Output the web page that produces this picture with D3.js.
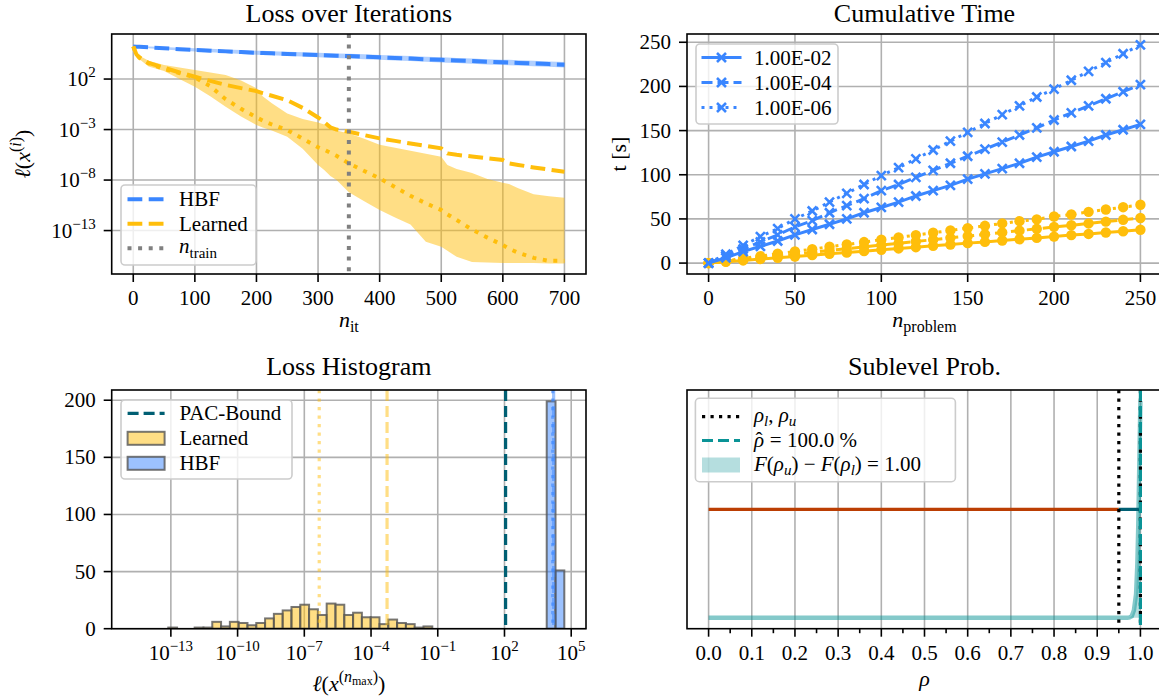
<!DOCTYPE html>
<html>
<head>
<meta charset="utf-8">
<script src="https://cdn.jsdelivr.net/npm/d3@7"></script>
</head>
<body style="margin:0;background:#fff">
<script>
// ---- Loss over Iterations (values are log10 of the loss) ----
var its = [0, 5, 10, 25, 50, 75, 100, 125, 150, 175, 200, 210, 225, 250, 275, 300, 310, 320, 330, 350,
    375, 400, 425, 450, 475, 500, 510, 525, 550, 575, 600, 610, 625, 650, 675, 700];
var hbfMid = [5.22, 5.2, 5.19, 5.14, 5.05, 4.96, 4.88, 4.81, 4.74, 4.67, 4.6, 4.58, 4.55, 4.49, 4.44, 4.38, 4.36, 4.33, 4.31, 4.27,
    4.21, 4.15, 4.09, 4.03, 3.96, 3.9, 3.88, 3.84, 3.78, 3.72, 3.66, 3.64, 3.6, 3.54, 3.48, 3.42];
var hbfHi = [5.22, 5.23, 5.24, 5.22, 5.17, 5.1, 5.04, 4.99, 4.93, 4.87, 4.81, 4.79, 4.76, 4.71, 4.66, 4.61, 4.59, 4.56, 4.54, 4.5,
    4.45, 4.39, 4.33, 4.28, 4.21, 4.15, 4.13, 4.09, 4.03, 3.97, 3.92, 3.9, 3.86, 3.8, 3.74, 3.68];
var hbfLo = [5.22, 5.15, 5.12, 5.04, 4.93, 4.83, 4.73, 4.65, 4.57, 4.49, 4.41, 4.39, 4.35, 4.29, 4.23, 4.16, 4.14, 4.11, 4.08, 4.04,
    3.97, 3.91, 3.84, 3.78, 3.71, 3.64, 3.62, 3.58, 3.52, 3.45, 3.39, 3.37, 3.33, 3.27, 3.21, 3.15];
var learnedDash = [5.22, 4.45, 4.1, 3.6, 3.12, 2.65, 2.23, 1.82, 1.42, 1.1, 0.81, 0.6, 0.35, -0.1, -0.85, -1.8, -2.25, -2.78, -3.0, -3.22,
    -3.55, -3.87, -4.12, -4.38, -4.62, -4.86, -5.36, -5.5, -5.67, -5.85, -6.02, -6.35, -6.5, -6.75, -6.97, -7.18];
var learnedDot = [5.22, 4.5, 4.15, 3.55, 3.0, 2.6, 2.15, 1.3, 0.0, -0.95, -1.8, -2.1, -2.5, -3.05, -3.9, -4.75, -5.0, -5.3, -5.6, -6.35,
    -7.1, -7.83, -8.7, -9.55, -10.3, -10.97, -11.4, -11.95, -12.9, -13.7, -14.44, -14.8, -15.2, -15.7, -16.0, -16.0];
var learnedHi = [5.22, 4.6, 4.3, 3.8, 3.4, 3.15, 2.89, 2.65, 2.4, 1.85, 1.1, 0.3, -0.4, -1.4, -1.95, -2.3, -2.5, -2.9, -3.1, -3.38,
    -3.9, -4.5, -4.8, -5.1, -5.4, -5.7, -6.5, -6.9, -7.3, -7.9, -8.26, -8.4, -8.8, -9.4, -9.6, -9.75];
var learnedLo = [5.22, 4.3, 3.95, 3.25, 2.8, 2.0, 1.24, 0.3, -0.74, -1.7, -2.55, -2.8, -3.1, -3.71, -4.9, -6.5, -7.0, -7.6, -8.0, -9.2,
    -10.1, -10.97, -11.7, -12.4, -14.1, -14.6, -15.0, -15.6, -16.1, -16.15, -16.2, -16.2, -16.2, -16.22, -16.25, -16.25];
var nTrain = 350;
var lossTicksX = [0, 100, 200, 300, 400, 500, 600, 700];
var lossTicksExp = [2, -3, -8, -13];

// ---- Cumulative Time ----
var problems = [0, 10, 20, 30, 40, 50, 60, 70, 80, 90, 100, 110, 120, 130, 140, 150, 160, 170, 180, 190, 200, 210, 220, 230, 240, 250];
var tolLabels = ["1.00E-02", "1.00E-04", "1.00E-06"];
var hbfTime = [
    [0, 6, 13, 19, 25, 32, 38, 44, 50, 57, 63, 69, 76, 82, 88, 95, 101, 107, 113, 120, 126, 132, 138, 145, 151, 157],
    [0, 8, 16, 24, 32, 41, 48, 57, 65, 73, 82, 89, 97, 105, 113, 121, 129, 137, 145, 153, 162, 170, 178, 186, 194, 202],
    [0, 10, 20, 30, 39, 50, 59, 69, 79, 89, 99, 108, 118, 128, 138, 148, 158, 168, 178, 188, 197, 207, 217, 227, 237, 247]
];
var learnedTime = [
    [0, 1.5, 3, 4.6, 6, 7.5, 9, 10.6, 12, 13.5, 15, 16.6, 18, 19.5, 21, 22.6, 24, 25.6, 27, 28.5, 30, 31.7, 33, 34.6, 36, 37.7],
    [0, 2, 4, 6.1, 8, 10, 12.2, 14.3, 16.3, 18.4, 20.5, 22.4, 24.5, 26.5, 28.6, 30.6, 32.6, 34.7, 36.7, 38.8, 41, 42.8, 44.9, 46.9, 49, 51],
    [0, 2.6, 5.3, 7.9, 10.6, 13.2, 15.8, 18.5, 21, 23.8, 26.5, 29, 31.7, 34.3, 37, 39.6, 42.2, 44.9, 47.5, 49.5, 52.8, 55, 58, 60.7, 63.3, 66]
];
var timeTicksX = [0, 50, 100, 150, 200, 250];
var timeTicksY = [0, 50, 100, 150, 200, 250];

// ---- Loss Histogram (bins in log10 space) ----
var binLo = -14.70, binHi = 4.69;
var learnedCounts = [0, 0, 0, 0, 1, 0, 0, 1, 1, 6, 2, 6, 5, 3, 5, 9, 13, 16, 19, 21, 17, 12, 22, 21, 12, 14, 10, 10, 4, 8,
    5, 4, 1, 2, 0, 0, 0, 0, 0, 0, 0, 0, 0, 0, 0, 0, 0, 0, 0];
var hbfCounts = [0, 0, 0, 0, 0, 0, 0, 0, 0, 0, 0, 0, 0, 0, 0, 0, 0, 0, 0, 0, 0, 0, 0, 0, 0, 0, 0, 0, 0, 0,
    0, 0, 0, 0, 0, 0, 0, 0, 0, 0, 0, 0, 0, 0, 0, 0, 0, 199, 51];
var pacBound = 2.05;
var learnedMedian = -6.33, learnedMax = -3.28;
var hbfMedian = 4.17, hbfMax = 4.21;
var histTicksExp = [-13, -10, -7, -4, -1, 2, 5];
var histTicksY = [0, 50, 100, 150, 200];

// ---- Sublevel Prob. ----
var rhoPts = [0, 0.5, 0.9, 0.95, 0.97, 0.975, 0.98, 0.985, 0.99, 0.993, 0.995, 0.997, 0.998, 0.999, 1.0];
var pdfVals = [0, 0, 0, 0, 0.0005, 0.002, 0.008, 0.035, 0.11, 0.25, 0.42, 0.65, 0.77, 0.88, 1.0];
var rhoL = 0.95, rhoU = 1.0, rhoHat = 1.0, intervalLevel = 0.5;
var rhoTicks = [0, 0.1, 0.2, 0.3, 0.4, 0.5, 0.6, 0.7, 0.8, 0.9, 1.0];
var rhoMinor = [0.05, 0.15, 0.25, 0.35, 0.45, 0.55, 0.65, 0.75, 0.85, 0.95];

var BLUE = "#3a86ff", YELLOW = "#ffbe0b", DTEAL = "#005f73", TEAL = "#0a9396", RED = "#bb3e03";
var GRID = "#b0b0b0";

var svg = d3.select("body").append("svg")
    .attr("width", 1159).attr("height", 700);
svg.append("rect").attr("width", 1159).attr("height", 700).attr("fill", "#fff");

var boxes = {
    loss: {x0: 111.7, x1: 586, y0: 34, y1: 274},
    time: {x0: 687, x1: 1162, y0: 34, y1: 274},
    hist: {x0: 111.7, x1: 586, y0: 390, y1: 628.7},
    prob: {x0: 687, x1: 1162, y0: 390, y1: 628.7}
};

function clipFor(name, b) {
    svg.append("clipPath").attr("id", "clip-" + name)
        .append("rect").attr("x", b.x0).attr("y", b.y0)
        .attr("width", b.x1 - b.x0).attr("height", b.y1 - b.y0);
    return svg.append("g").attr("clip-path", "url(#clip-" + name + ")");
}

function frame(b) {
    svg.append("rect").attr("x", b.x0).attr("y", b.y0)
        .attr("width", b.x1 - b.x0).attr("height", b.y1 - b.y0)
        .attr("fill", "none").attr("stroke", "#000").attr("stroke-width", 1.6);
}

function title(b, txt, y) {
    svg.append("text").attr("x", (b.x0 + b.x1) / 2).attr("y", y)
        .attr("text-anchor", "middle").attr("font-size", 26).text(txt);
}

function gridX(b, scale, vals) {
    svg.append("g").selectAll("line").data(vals).enter().append("line")
        .attr("x1", function (d) { return scale(d); }).attr("x2", function (d) { return scale(d); })
        .attr("y1", b.y0).attr("y2", b.y1)
        .attr("stroke", GRID).attr("stroke-width", 1.6);
}

function gridY(b, scale, vals) {
    svg.append("g").selectAll("line").data(vals).enter().append("line")
        .attr("y1", function (d) { return scale(d); }).attr("y2", function (d) { return scale(d); })
        .attr("x1", b.x0).attr("x2", b.x1)
        .attr("stroke", GRID).attr("stroke-width", 1.6);
}

function ticksX(b, scale, vals, len) {
    svg.append("g").selectAll("line").data(vals).enter().append("line")
        .attr("x1", function (d) { return scale(d); }).attr("x2", function (d) { return scale(d); })
        .attr("y1", b.y1).attr("y2", b.y1 + len)
        .attr("stroke", "#000").attr("stroke-width", 1.6);
}

function ticksY(b, scale, vals) {
    svg.append("g").selectAll("line").data(vals).enter().append("line")
        .attr("y1", function (d) { return scale(d); }).attr("y2", function (d) { return scale(d); })
        .attr("x1", b.x0 - 8).attr("x2", b.x0)
        .attr("stroke", "#000").attr("stroke-width", 1.6);
}

function plainLabel(x, y, txt, anchor) {
    svg.append("text").attr("x", x).attr("y", y).attr("text-anchor", anchor)
        .attr("font-size", 21).text(txt);
}

function powLabel(x, y, e, anchor) {
    var t = svg.append("text").attr("x", x).attr("y", y).attr("text-anchor", anchor).attr("font-size", 21);
    t.append("tspan").text("10");
    t.append("tspan").attr("dy", -9).attr("font-size", 15).text(e < 0 ? "\u2212" + (-e) : "" + e);
}

function legendBox(x, y, w, h) {
    svg.append("rect").attr("x", x).attr("y", y).attr("width", w).attr("height", h)
        .attr("rx", 4).attr("fill", "#fff").attr("fill-opacity", 0.8)
        .attr("stroke", "#cccccc").attr("stroke-width", 1.6);
}

function hline(x1, x2, y, color, width, dash, opacity) {
    return svg.append("line").attr("x1", x1).attr("x2", x2).attr("y1", y).attr("y2", y)
        .attr("stroke", color).attr("stroke-width", width)
        .attr("stroke-dasharray", dash || null).attr("stroke-opacity", opacity || 1);
}

function pow10(v) { return Math.pow(10, v); }

// =============== Panel 1: Loss over Iterations ===============
(function () {
    var b = boxes.loss;
    var sx = d3.scaleLinear().domain([-35, 735]).range([b.x0, b.x1]);
    var sy = d3.scaleLog().domain([pow10(-17.3), pow10(6.46)]).range([b.y1, b.y0]);

    gridX(b, sx, lossTicksX);
    gridY(b, sy, lossTicksExp.map(pow10));
    var g = clipFor("loss", b);

    var rows = its.map(function (n, i) {
        return {n: n, hm: hbfMid[i], hh: hbfHi[i], hl: hbfLo[i],
            ld: learnedDash[i], lm: learnedDot[i], lh: learnedHi[i], ll: learnedLo[i]};
    });
    function band(lo, hi) {
        return d3.area().x(function (d) { return sx(d.n); })
            .y0(function (d) { return sy(pow10(d[lo])); })
            .y1(function (d) { return sy(pow10(d[hi])); });
    }
    function curve(k) {
        return d3.line().x(function (d) { return sx(d.n); })
            .y(function (d) { return sy(pow10(d[k])); });
    }
    g.append("path").datum(rows).attr("d", band("ll", "lh")).attr("fill", YELLOW).attr("fill-opacity", 0.5);
    g.append("path").datum(rows).attr("d", band("hl", "hh")).attr("fill", BLUE).attr("fill-opacity", 0.4);
    g.append("path").datum(rows).attr("d", curve("hm")).attr("fill", "none")
        .attr("stroke", BLUE).attr("stroke-width", 4).attr("stroke-dasharray", "14.8,6.4");
    g.append("path").datum(rows).attr("d", curve("ld")).attr("fill", "none")
        .attr("stroke", YELLOW).attr("stroke-width", 4).attr("stroke-dasharray", "14.8,6.4");
    g.append("path").datum(rows).attr("d", curve("lm")).attr("fill", "none")
        .attr("stroke", YELLOW).attr("stroke-width", 4).attr("stroke-dasharray", "4,6.6");
    g.append("line").attr("x1", sx(nTrain)).attr("x2", sx(nTrain)).attr("y1", b.y0).attr("y2", b.y1)
        .attr("stroke", "#808080").attr("stroke-width", 4).attr("stroke-dasharray", "4,6.6");

    frame(b);
    ticksX(b, sx, lossTicksX, 8);
    ticksY(b, sy, lossTicksExp.map(pow10));
    lossTicksX.forEach(function (d) { plainLabel(sx(d), b.y1 + 31, d, "middle"); });
    lossTicksExp.forEach(function (e) { powLabel(b.x0 - 16, sy(pow10(e)) + 7, e, "end"); });
    title(b, "Loss over Iterations", 22);

    var xl = svg.append("text").attr("x", (b.x0 + b.x1) / 2).attr("y", 327)
        .attr("text-anchor", "middle").attr("font-size", 22);
    xl.append("tspan").attr("font-style", "italic").text("n");
    xl.append("tspan").attr("dy", 5).attr("font-size", 16).text("it");

    var yl = svg.append("text").attr("transform", "translate(30," + ((b.y0 + b.y1) / 2) + ") rotate(-90)")
        .attr("text-anchor", "middle").attr("font-size", 22);
    yl.append("tspan").attr("font-style", "italic").text("\u2113");
    yl.append("tspan").text("(");
    yl.append("tspan").attr("font-style", "italic").text("x");
    yl.append("tspan").attr("dy", -9).attr("font-size", 16).text("(");
    yl.append("tspan").attr("font-size", 16).attr("font-style", "italic").text("i");
    yl.append("tspan").attr("font-size", 16).text(")");
    yl.append("tspan").attr("dy", 9).text(")");

    legendBox(121, 185, 135, 80);
    var ly = [199.3, 223.8, 248.3];
    hline(127.5, 164, ly[0], BLUE, 4, "14.8,6.4");
    hline(127.5, 164, ly[1], YELLOW, 4, "14.8,6.4");
    hline(127.5, 164, ly[2], "#808080", 4, "4,6.6");
    plainLabel(179, ly[0] + 7, "HBF", "start");
    plainLabel(179, ly[1] + 7, "Learned", "start");
    var nt = svg.append("text").attr("x", 179).attr("y", ly[2] + 5).attr("font-size", 21);
    nt.append("tspan").attr("font-style", "italic").text("n");
    nt.append("tspan").attr("dy", 5).attr("font-size", 15).text("train");
})();

// =============== Panel 2: Cumulative Time ===============
(function () {
    var b = boxes.time;
    var sx = d3.scaleLinear().domain([-12.5, 262.5]).range([b.x0, b.x1]);
    var sy = d3.scaleLinear().domain([-12.35, 259.35]).range([b.y1, b.y0]);
    var dashes = [null, "11,5", "3,5"];

    gridX(b, sx, timeTicksX);
    gridY(b, sy, timeTicksY);
    var g = clipFor("time", b);
    var cross = "M-4.5,-4.5L4.5,4.5M-4.5,4.5L4.5,-4.5";

    function series(vals, color, dash, marker) {
        var pts = problems.map(function (p, i) { return {p: p, t: vals[i]}; });
        g.append("path").datum(pts)
            .attr("d", d3.line().x(function (d) { return sx(d.p); }).y(function (d) { return sy(d.t); }))
            .attr("fill", "none").attr("stroke", color).attr("stroke-width", 3)
            .attr("stroke-dasharray", dash);
        if (marker === "x") {
            g.append("g").selectAll("path").data(pts).enter().append("path")
                .attr("d", cross)
                .attr("transform", function (d) { return "translate(" + sx(d.p) + "," + sy(d.t) + ")"; })
                .attr("stroke", color).attr("stroke-width", 2.6).attr("fill", "none");
        } else {
            g.append("g").selectAll("circle").data(pts).enter().append("circle")
                .attr("cx", function (d) { return sx(d.p); })
                .attr("cy", function (d) { return sy(d.t); })
                .attr("r", 5.2).attr("fill", color);
        }
    }
    learnedTime.forEach(function (v, i) { series(v, YELLOW, dashes[i], "o"); });
    hbfTime.forEach(function (v, i) { series(v, BLUE, dashes[i], "x"); });

    frame(b);
    ticksX(b, sx, timeTicksX, 8);
    ticksY(b, sy, timeTicksY);
    timeTicksX.forEach(function (d) { plainLabel(sx(d), b.y1 + 31, d, "middle"); });
    timeTicksY.forEach(function (d) { plainLabel(b.x0 - 16, sy(d) + 7, d, "end"); });
    title(b, "Cumulative Time", 22);

    var xl = svg.append("text").attr("x", (b.x0 + b.x1) / 2).attr("y", 327)
        .attr("text-anchor", "middle").attr("font-size", 22);
    xl.append("tspan").attr("font-style", "italic").text("n");
    xl.append("tspan").attr("dy", 5).attr("font-size", 16).text("problem");

    svg.append("text").attr("transform", "translate(626," + ((b.y0 + b.y1) / 2) + ") rotate(-90)")
        .attr("text-anchor", "middle").attr("font-size", 22).text("t [s]");

    legendBox(696, 44, 142, 80);
    var ly = [57.5, 82.5, 107.5];
    tolLabels.forEach(function (lab, i) {
        hline(701.5, 741.5, ly[i], BLUE, 3, dashes[i]);
        svg.append("path").attr("d", cross).attr("transform", "translate(721.5," + ly[i] + ")")
            .attr("stroke", BLUE).attr("stroke-width", 2.6).attr("fill", "none");
        plainLabel(754, ly[i] + 7, lab, "start");
    });
})();

// =============== Panel 3: Loss Histogram ===============
(function () {
    var b = boxes.hist;
    var sx = d3.scaleLog().domain([pow10(-15.66), pow10(5.665)]).range([b.x0, b.x1]);
    var sy = d3.scaleLinear().domain([0, 208.95]).range([b.y1, b.y0]);
    var nb = learnedCounts.length;
    var step = (binHi - binLo) / nb;

    gridX(b, sx, histTicksExp.map(pow10));
    gridY(b, sy, histTicksY);
    var g = clipFor("hist", b);

    function bars(counts, color) {
        var data = counts.map(function (c, i) { return {i: i, c: c}; }).filter(function (d) { return d.c > 0; });
        g.append("g").selectAll("rect").data(data).enter().append("rect")
            .attr("x", function (d) { return sx(pow10(binLo + d.i * step)); })
            .attr("width", function (d) { return sx(pow10(binLo + (d.i + 1) * step)) - sx(pow10(binLo + d.i * step)); })
            .attr("y", function (d) { return sy(d.c); })
            .attr("height", function (d) { return sy(0) - sy(d.c); })
            .attr("fill", color).attr("fill-opacity", 0.5)
            .attr("stroke", "#555").attr("stroke-opacity", 0.8).attr("stroke-width", 2);
    }
    bars(learnedCounts, YELLOW);
    bars(hbfCounts, BLUE);

    function vline(e, color, dash, op) {
        g.append("line").attr("x1", sx(pow10(e))).attr("x2", sx(pow10(e)))
            .attr("y1", b.y0).attr("y2", b.y1)
            .attr("stroke", color).attr("stroke-width", 3.2).attr("stroke-opacity", op)
            .attr("stroke-dasharray", dash);
    }
    vline(pacBound, DTEAL, "11,5", 1);
    vline(learnedMedian, YELLOW, "3.2,5.3", 0.5);
    vline(learnedMax, YELLOW, "11,5", 0.5);
    vline(hbfMedian, BLUE, "3.2,5.3", 0.6);
    vline(hbfMax, BLUE, "11,5", 0.5);

    frame(b);
    ticksX(b, sx, histTicksExp.map(pow10), 8);
    ticksY(b, sy, histTicksY);
    histTicksExp.forEach(function (e) { powLabel(sx(pow10(e)), b.y1 + 31, e, "middle"); });
    histTicksY.forEach(function (d) { plainLabel(b.x0 - 16, sy(d) + 7, d, "end"); });
    title(b, "Loss Histogram", 375);

    var xl = svg.append("text").attr("x", (b.x0 + b.x1) / 2).attr("y", 691)
        .attr("text-anchor", "middle").attr("font-size", 22);
    xl.append("tspan").attr("font-style", "italic").text("\u2113");
    xl.append("tspan").text("(");
    xl.append("tspan").attr("font-style", "italic").text("x");
    xl.append("tspan").attr("dy", -9).attr("font-size", 16).text("(");
    xl.append("tspan").attr("font-size", 16).attr("font-style", "italic").text("n");
    xl.append("tspan").attr("dy", 3).attr("font-size", 12).text("max");
    xl.append("tspan").attr("dy", -3).attr("font-size", 16).text(")");
    xl.append("tspan").attr("dy", 9).text(")");

    legendBox(121, 400, 171, 79);
    var ly = [413.3, 438.3, 463.3];
    hline(127.6, 164.6, ly[0], DTEAL, 3.2, "11,5");
    [YELLOW, BLUE].forEach(function (c, i) {
        svg.append("rect").attr("x", 127.6).attr("y", ly[i + 1] - 6.5).attr("width", 37).attr("height", 13)
            .attr("fill", c).attr("fill-opacity", 0.5)
            .attr("stroke", "#555").attr("stroke-opacity", 0.8).attr("stroke-width", 2);
    });
    plainLabel(179.4, ly[0] + 7, "PAC-Bound", "start");
    plainLabel(179.4, ly[1] + 7, "Learned", "start");
    plainLabel(179.4, ly[2] + 7, "HBF", "start");
})();

// =============== Panel 4: Sublevel Prob. ===============
(function () {
    var b = boxes.prob;
    var sx = d3.scaleLinear().domain([-0.05, 1.05]).range([b.x0, b.x1]);
    var sy = d3.scaleLinear().domain([-0.05, 1.05]).range([b.y1, b.y0]);

    gridX(b, sx, rhoTicks);
    var g = clipFor("prob", b);
    var pts = rhoPts.map(function (r, i) { return {r: r, v: pdfVals[i]}; });

    g.append("path").datum(pts.filter(function (d) { return d.r >= rhoL && d.r <= rhoU; }))
        .attr("d", d3.area().x(function (d) { return sx(d.r); }).y0(sy(0)).y1(function (d) { return sy(d.v); }))
        .attr("fill", TEAL).attr("fill-opacity", 0.3);
    g.append("path").datum(pts)
        .attr("d", d3.line().x(function (d) { return sx(d.r); }).y(function (d) { return sy(d.v); }))
        .attr("fill", "none").attr("stroke", TEAL).attr("stroke-opacity", 0.5).attr("stroke-width", 4.5);

    g.append("line").attr("x1", sx(0)).attr("x2", sx(rhoL)).attr("y1", sy(intervalLevel)).attr("y2", sy(intervalLevel))
        .attr("stroke", RED).attr("stroke-width", 3.2);
    g.append("line").attr("x1", sx(rhoL)).attr("x2", sx(rhoU)).attr("y1", sy(intervalLevel)).attr("y2", sy(intervalLevel))
        .attr("stroke", DTEAL).attr("stroke-width", 3.2);

    [rhoL, rhoU].forEach(function (r) {
        g.append("line").attr("x1", sx(r)).attr("x2", sx(r)).attr("y1", b.y0).attr("y2", b.y1)
            .attr("stroke", "#000").attr("stroke-width", 3.2).attr("stroke-dasharray", "3.2,5.3");
    });
    g.append("line").attr("x1", sx(rhoHat)).attr("x2", sx(rhoHat)).attr("y1", b.y0).attr("y2", b.y1)
        .attr("stroke", TEAL).attr("stroke-width", 3.2).attr("stroke-dasharray", "11,5");

    frame(b);
    ticksX(b, sx, rhoTicks, 8);
    ticksX(b, sx, rhoMinor, 4.5);
    rhoTicks.forEach(function (d) { plainLabel(sx(d), b.y1 + 31, d.toFixed(1), "middle"); });
    title(b, "Sublevel Prob.", 375);

    svg.append("text").attr("x", (b.x0 + b.x1) / 2).attr("y", 686)
        .attr("text-anchor", "middle").attr("font-size", 22).attr("font-style", "italic").text("\u03c1");

    legendBox(695.4, 398.3, 260, 83.4);
    var ly = [416.7, 440.5, 465];
    hline(702, 740, ly[0], "#000", 3.2, "3.2,5.3");
    hline(702, 740, ly[1], TEAL, 3.2, "11,5");
    svg.append("rect").attr("x", 702).attr("y", ly[2] - 7.5).attr("width", 38).attr("height", 15)
        .attr("fill", TEAL).attr("fill-opacity", 0.3);

    var t1 = svg.append("text").attr("x", 754).attr("y", ly[0] + 5).attr("font-size", 21);
    t1.append("tspan").attr("font-style", "italic").text("\u03c1");
    t1.append("tspan").attr("dy", 4).attr("font-size", 15).attr("font-style", "italic").text("l");
    t1.append("tspan").attr("dy", -4).text(", ");
    t1.append("tspan").attr("font-style", "italic").text("\u03c1");
    t1.append("tspan").attr("dy", 4).attr("font-size", 15).attr("font-style", "italic").text("u");

    var t2 = svg.append("text").attr("x", 754).attr("y", ly[1] + 6).attr("font-size", 21);
    t2.append("tspan").attr("font-style", "italic").text("\u03c1");
    t2.append("tspan").attr("dx", -8.5).text("\u02c6");
    t2.append("tspan").attr("dx", 2).text(" = 100.0 %");

    var t3 = svg.append("text").attr("x", 754).attr("y", ly[2] + 6).attr("font-size", 21);
    t3.append("tspan").attr("font-style", "italic").text("F");
    t3.append("tspan").text("(");
    t3.append("tspan").attr("font-style", "italic").text("\u03c1");
    t3.append("tspan").attr("dy", 4).attr("font-size", 15).attr("font-style", "italic").text("u");
    t3.append("tspan").attr("dy", -4).text(") \u2212 ");
    t3.append("tspan").attr("font-style", "italic").text("F");
    t3.append("tspan").text("(");
    t3.append("tspan").attr("font-style", "italic").text("\u03c1");
    t3.append("tspan").attr("dy", 4).attr("font-size", 15).attr("font-style", "italic").text("l");
    t3.append("tspan").attr("dy", -4).text(") = 1.00");
})();

// serif font on every label
svg.selectAll("text").style("font-family", "'Liberation Serif'");
</script>
</body>
</html>
